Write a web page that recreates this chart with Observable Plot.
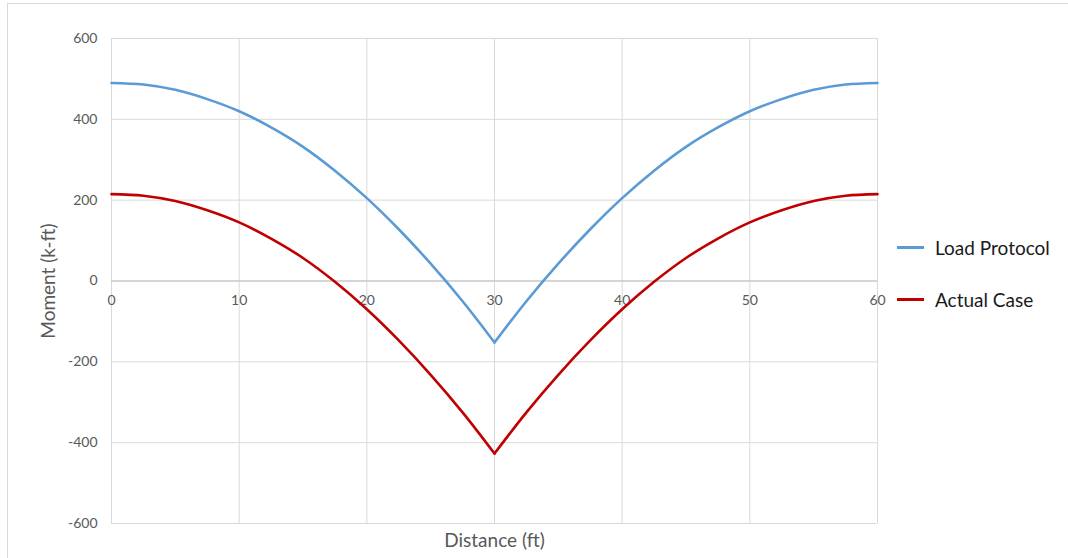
<!DOCTYPE html>
<html>
<head>
<meta charset="utf-8">
<script src="https://cdn.jsdelivr.net/npm/d3@7"></script>
<script src="https://cdn.jsdelivr.net/npm/@observablehq/plot@0.6"></script>
<style>
  html, body { margin: 0; padding: 0; background: #fff; }
  #wrap { position: relative; width: 1068px; height: 558px; overflow: hidden; font-family: Lato, "Open Sans", sans-serif; }
  #border { position: absolute; left: 7px; top: 3px; right: -2px; bottom: -2px; border-left: 1px solid #d9d9d9; border-top: 1px solid #d9d9d9; }
  .leg { position: absolute; left: 897px; height: 20px; display: flex; align-items: center; font-size: 19px; color: #1a1a1a; }
  .leg span.sw { display: inline-block; width: 27px; height: 3px; margin-right: 11px; }
</style>
</head>
<body>
<div id="wrap">
  <div id="border"></div>
  <div id="chart"></div>
</div>
<script>
const distance = [0, 2.5, 5, 7.5, 10, 12.5, 15, 17.5, 20, 22.5, 25, 27.5, 30, 32.5, 35, 37.5, 40, 42.5, 45, 47.5, 50, 52.5, 55, 57.5, 60];
const loadProtocol = [490, 486, 473, 450, 420, 380, 332, 273, 205, 128, 43, -50, -152, -50, 43, 128, 205, 273, 332, 380, 420, 450, 473, 486, 490];
const actualCase = [215, 211, 198, 175, 145, 105, 57, -2, -70, -147, -232, -325, -427, -325, -232, -147, -70, -2, 57, 105, 145, 175, 198, 211, 215];
const seriesNames = ["Load Protocol", "Actual Case"];
const seriesColors = ["#5B9BD5", "#C00000"];
const xTicks = [0, 10, 20, 30, 40, 50, 60];
const yTicks = [-600, -400, -200, 0, 200, 400, 600];
const xTitle = "Distance (ft)";
const yTitle = "Moment (k-ft)";

// each series drawn as two smooth spans that meet at the midspan cusp
const data = [];
distance.forEach((d, i) => {
  const spans = d < 30 ? ["a"] : d > 30 ? ["b"] : ["a", "b"];
  spans.forEach(h => {
    data.push({x: d, y: loadProtocol[i], s: seriesNames[0], g: seriesNames[0] + h});
    data.push({x: d, y: actualCase[i], s: seriesNames[1], g: seriesNames[1] + h});
  });
});

const chart = Plot.plot({
  width: 1068,
  height: 558,
  marginLeft: 111,
  marginRight: 191,
  marginTop: 38,
  marginBottom: 35,
  style: {fontFamily: "Lato, 'Open Sans', sans-serif", background: "transparent"},
  x: {domain: [0, 60], axis: null},
  y: {domain: [-600, 600], axis: null},
  color: {domain: seriesNames, range: seriesColors},
  marks: [
    Plot.gridX(xTicks, {stroke: "#d9d9d9", strokeOpacity: 1, strokeWidth: 1}),
    Plot.gridY(yTicks, {stroke: "#d9d9d9", strokeOpacity: 1, strokeWidth: 1}),
    Plot.ruleY([0], {stroke: "#bfbfbf", strokeWidth: 1}),
    Plot.axisY(yTicks, {tickSize: 0, tickPadding: 14, fontSize: 14, fill: "#595959", label: null, tickFormat: d => String(d)}),
    Plot.text(xTicks, {x: d => d, y: 0, text: d => String(d), dy: 20, fontSize: 14, fill: "#595959", textAnchor: "middle"}),
    Plot.line(data, {x: "x", y: "y", stroke: "s", z: "g", strokeWidth: 2.6, curve: "catmull-rom"}),
    Plot.text([yTitle], {frameAnchor: "left", text: d => d, rotate: -90, dx: -63, textAnchor: "middle", lineAnchor: "middle", fontSize: 19, fill: "#595959"}),
    Plot.text([xTitle], {frameAnchor: "bottom", text: d => d, dy: 17, textAnchor: "middle", lineAnchor: "middle", fontSize: 19, fill: "#595959"})
  ]
});
document.getElementById("chart").appendChild(chart);

const wrap = document.getElementById("wrap");
const legTops = [237, 289];
seriesNames.forEach((n, i) => {
  const el = document.createElement("div");
  el.className = "leg";
  el.style.top = legTops[i] + "px";
  el.innerHTML = `<span class="sw" style="background:${seriesColors[i]}"></span><span>${n}</span>`;
  wrap.appendChild(el);
});
</script>
</body>
</html>
